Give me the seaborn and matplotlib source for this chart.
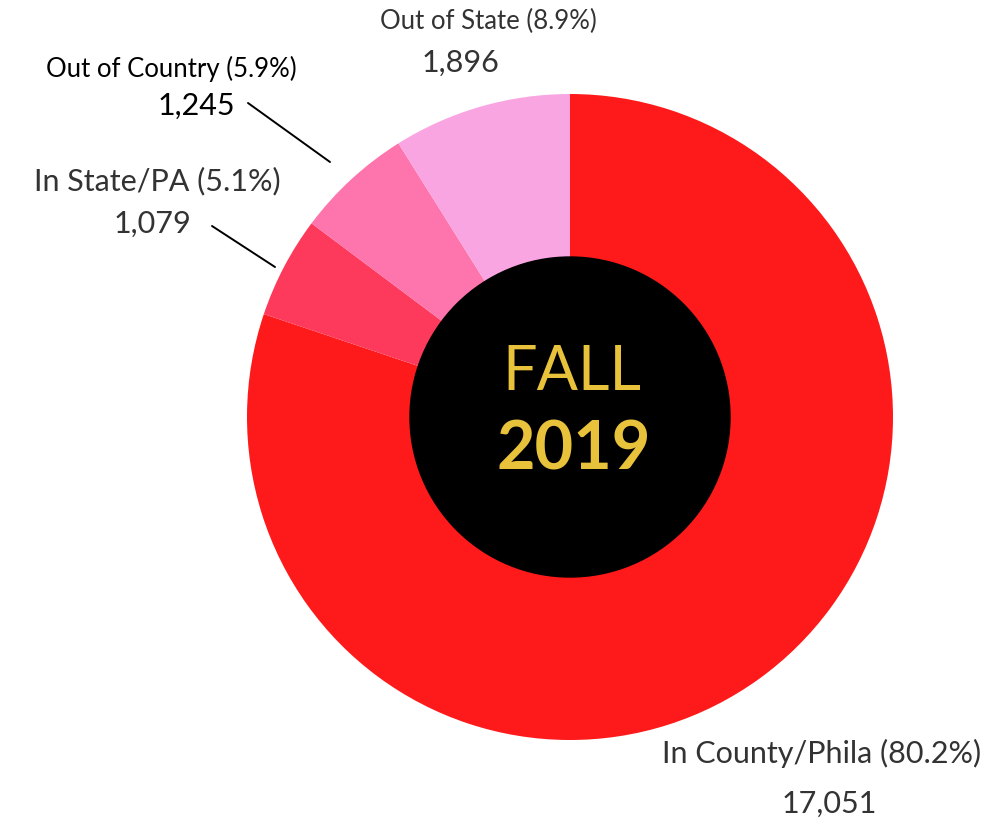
import matplotlib
matplotlib.use("Agg")
import matplotlib.pyplot as plt
import seaborn as sns

categories = ["In County/Phila", "In State/PA", "Out of Country", "Out of State"]
counts = [17051, 1079, 1245, 1896]
pct_labels = ["80.2%", "5.1%", "5.9%", "8.9%"]
count_labels = ["17,051", "1,079", "1,245", "1,896"]
slice_colors = ["#fe1a1a", "#fe3a5c", "#fe74ac", "#f9a5e2"]
center_lines = ["FALL", "2019"]

sns.set_theme(style="white")
plt.rcParams["font.family"] = ["Lato", "DejaVu Sans"]

W, H = 994, 819
fig = plt.figure(figsize=(W / 100, H / 100), dpi=100)
ax = fig.add_axes([0, 0, 1, 1])

cx, cy = 570, H - 417
ax.pie(counts, colors=slice_colors, startangle=90, counterclock=False,
       radius=323, center=(cx, cy), frame=True,
       wedgeprops=dict(linewidth=0))
ax.set_xlim(0, W)
ax.set_ylim(0, H)
ax.set_aspect("equal")
ax.axis("off")
ax.add_patch(plt.Circle((cx, cy), 160, color="black", zorder=5))

gold = "#e8c23a"
ax.text(cx + 2, H - 373, center_lines[0], color=gold, fontsize=44,
        ha="center", va="center", zorder=6)
ax.text(cx + 4, H - 450, center_lines[1], color=gold, fontsize=48,
        fontweight="bold", ha="center", va="center", zorder=6)

# (x centre, baseline) for label line and count line, plus label size
label_pos = {
    "In County/Phila": ((822, 763), (829, 813), 22),
    "In State/PA": ((157, 190), (152, 233), 22),
    "Out of Country": ((171, 77), (196, 115), 18.5),
    "Out of State": ((488, 29), (460, 72), 18.5),
}
for cat, pct, cnt in zip(categories, pct_labels, count_labels):
    (x1, y1), (x2, y2), fs = label_pos[cat]
    col = "black" if cat == "Out of Country" else "#333333"
    ax.text(x1, H - y1, f"{cat} ({pct})", fontsize=fs, color=col,
            ha="center", va="baseline")
    ax.text(x2, H - y2, cnt, fontsize=22, color=col,
            ha="center", va="baseline")

ax.plot([248, 330], [H - 103, H - 162], color="black", lw=1.4)
ax.plot([212, 275], [H - 226, H - 267], color="black", lw=1.4)

fig.savefig("out.png", dpi=100)
